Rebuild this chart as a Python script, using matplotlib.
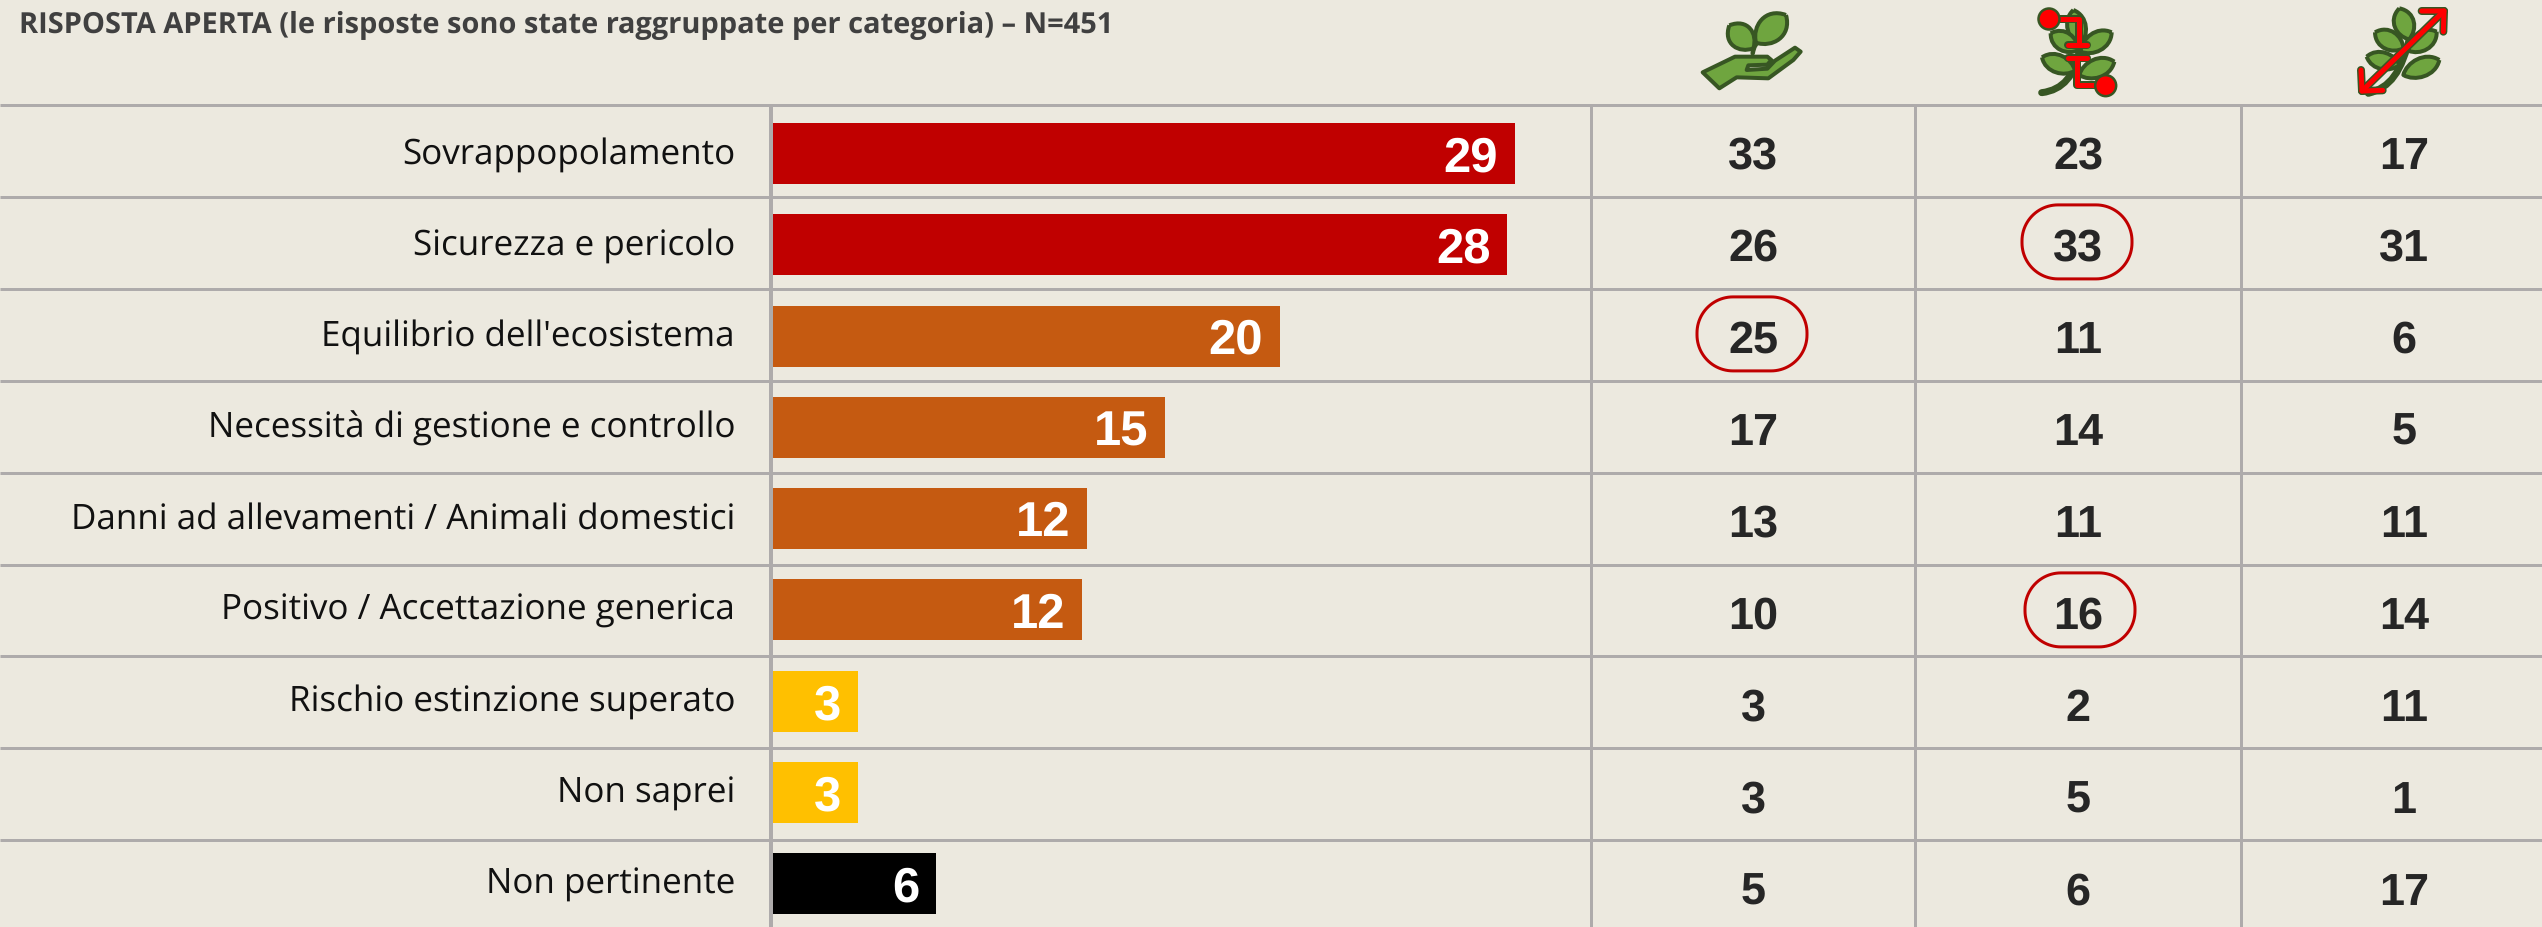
import numpy as np
import matplotlib
matplotlib.use("Agg")
import matplotlib.pyplot as plt
from matplotlib.patches import PathPatch, Circle, Polygon
from matplotlib.path import Path

categories = ["Sovrappopolamento", "Sicurezza e pericolo", "Equilibrio dell'ecosistema",
              "Necessità di gestione e controllo", "Danni ad allevamenti / Animali domestici",
              "Positivo / Accettazione generica", "Rischio estinzione superato", "Non saprei",
              "Non pertinente"]
total_labels = [29, 28, 20, 15, 12, 12, 3, 3, 6]
total_values = [29.03, 28.74, 19.84, 15.34, 12.29, 12.09, 3.33, 3.33, 6.38]
col_a = [33, 26, 25, 17, 13, 10, 3, 3, 5]
col_b = [23, 33, 11, 14, 11, 16, 2, 5, 6]
col_c = [17, 31, 6, 5, 11, 14, 11, 1, 17]
colors = ["#C00000", "#C00000", "#C55A11", "#C55A11", "#C55A11", "#C55A11", "#FFC000", "#FFC000", "#000000"]
highlights = [(0, 2, -1), (1, 1, -1), (1, 5, 2)]
title = "RISPOSTA APERTA (le risposte sono state raggruppate per categoria) – N=451"

W, H = 2542, 927
BG = "#ECE9DF"
GRID = "#AEABAB"
DARK = "#375623"
LEAF = "#6FA53F"
RED = "#FF0000"
plt.rcParams["text.hinting"] = "none"
plt.rcParams["text.hinting_factor"] = 1
fig = plt.figure(figsize=(W/100, H/100), dpi=100, facecolor=BG)
page = fig.add_axes([0, 0, 1, 1])
page.set_xlim(0, W); page.set_ylim(H, 0); page.axis("off")

FONT = ["Open Sans", "DejaVu Sans"]
NUM = ["Liberation Sans"]
px = 0.72  # px -> pt
row_top, row_h = 105, 91.9
n = len(categories)
col_x = [1753, 2078, 2404]
for i in range(n):
    page.plot([0, W], [row_top+i*row_h]*2, color=GRID, lw=3*px, solid_capstyle="butt", zorder=1)
for x in [771, 1591, 1915, 2241]:
    page.plot([x, x], [row_top, H], color=GRID, lw=(4 if x == 771 else 3)*px, solid_capstyle="butt", zorder=1)

# bars on their own value axis
x0, unit = 773, 25.55
bar_ax = fig.add_axes([x0/W, 0, (W-x0)/W, 1])
bar_ax.set_xlim(0, (W-x0)/unit); bar_ax.set_ylim(H, 0); bar_ax.axis("off"); bar_ax.patch.set_alpha(0)
ys = [153.5 + i*91.25 for i in range(n)]
num_ys = [152.4 + i*92 for i in range(n)]
bar_ax.barh(ys, total_values, height=61, color=colors, zorder=2)
for y, v, l in zip(ys, total_values, total_labels):
    bar_ax.text(v-0.665, y+18, str(l), ha="right", va="baseline", color="white", fontsize=35.5,
                fontweight="bold", family=NUM)
for y, c in zip(ys, categories):
    page.text(735, y+10, c, ha="right", va="baseline", fontsize=34.7*px, color="#111111", family=FONT)

for xc, col in zip(col_x, [col_a, col_b, col_c]):
    for y, v in zip(num_ys, col):
        page.text(xc, y+16.3, str(v), ha="center", va="baseline", fontsize=32.4, fontweight="bold",
                  color="#262626", family=NUM)


def stadium(xc, yc, w, h, r):
    t = np.linspace(0, np.pi/2, 24)
    pts = []
    for cx, cy, a in [(xc+w/2-r, yc+h/2-r, 0), (xc-w/2+r, yc+h/2-r, np.pi/2),
                      (xc-w/2+r, yc-h/2+r, np.pi), (xc+w/2-r, yc-h/2+r, 3*np.pi/2)]:
        pts += list(zip(cx+r*np.cos(t+a), cy+r*np.sin(t+a)))
    return Polygon(pts, closed=True, fc="none", ec="#C00000", lw=3*px, zorder=3)


for c, r, dx in highlights:
    page.add_patch(stadium(col_x[c]+dx, num_ys[r]-2.5, 110, 74, 36))

page.text(19, 33, title, ha="left", va="baseline", fontsize=21, fontweight="bold",
          color="#404040", family=FONT)


# ---- header icons (decoration), authored in 3x crop coordinates
def T(ox, pts):
    return [(ox+p[0]/3, p[1]/3) for p in pts]


def leaf(ox, tip, base, w):
    tip, base = np.array(tip, float), np.array(base, float)
    d = base-tip
    nrm = np.array([-d[1], d[0]])/np.hypot(*d)
    c1 = tip+0.25*d+nrm*w*1.0; c2 = tip+0.8*d+nrm*w*0.75
    c3 = tip+0.8*d-nrm*w*0.75; c4 = tip+0.25*d-nrm*w*1.0
    v = T(ox, [tip, c1, c2, base, c3, c4, tip])
    page.add_patch(PathPatch(Path(v, [Path.MOVETO]+[Path.CURVE4]*6), fc=LEAF, ec=DARK, lw=4*px,
                             joinstyle="round", zorder=4))


def stroke(ox, pts, color, lw, z, curve=False):
    v = T(ox, pts)
    codes = [Path.MOVETO]+[Path.CURVE4]*3 if curve else None
    page.add_patch(PathPatch(Path(v, codes), fc="none", ec=color, lw=lw*px, capstyle="round",
                             joinstyle="round", zorder=z))


def red_line(ox, pts):
    stroke(ox, pts, DARK, 8, 5)
    stroke(ox, pts, RED, 5, 6)


# hand with sprout
ox = 1680
hand = [(68, 217), (165, 170), (262, 170), (274, 180), (262, 194), (205, 196), (200, 210),
        (262, 206), (285, 182), (345, 143), (362, 155), (340, 180), (265, 235), (170, 232),
        (118, 265)]
page.add_patch(Polygon(T(ox, hand), closed=True, fc=LEAF, ec=DARK, lw=4*px, joinstyle="round", zorder=4))
stroke(ox, [(218, 160), (222, 140), (226, 130), (245, 118)], DARK, 4.5, 4, curve=True)
leaf(ox, (148, 76), (220, 145), 55)
leaf(ox, (318, 45), (228, 128), 60)

# branch with red dimension markers
ox = 2020
stroke(ox, [(65, 278), (130, 270), (165, 225), (178, 150)], DARK, 7, 3, curve=True)
leaf(ox, (160, 30), (180, 135), 42)
leaf(ox, (92, 100), (175, 150), 42)
leaf(ox, (275, 97), (182, 155), 42)
leaf(ox, (66, 172), (165, 212), 40)
leaf(ox, (283, 185), (178, 225), 42)
red_line(ox, [(87, 57), (178, 57), (178, 135)])
red_line(ox, [(145, 135), (200, 135)])
red_line(ox, [(145, 175), (200, 175)])
red_line(ox, [(172, 175), (172, 255), (255, 255)])
for cx, cy in [(87, 57), (257, 257)]:
    page.add_patch(Circle((ox+cx/3, cy/3), 10.5, fc=RED, ec=DARK, lw=2.5*px, zorder=7))

# branch with red diagonal arrow
ox = 2340
stroke(ox, [(85, 280), (150, 262), (185, 220), (212, 100)], DARK, 7, 3, curve=True)
leaf(ox, (178, 25), (207, 118), 45)
leaf(ox, (105, 97), (190, 145), 42)
leaf(ox, (290, 95), (205, 152), 42)
leaf(ox, (80, 170), (178, 195), 38)
leaf(ox, (298, 180), (190, 225), 42)
red_line(ox, [(66, 273), (312, 33)])
red_line(ox, [(245, 33), (312, 33), (310, 95)])
red_line(ox, [(63, 210), (66, 273), (128, 271)])

fig.savefig("out.png", dpi=100, facecolor=BG)
